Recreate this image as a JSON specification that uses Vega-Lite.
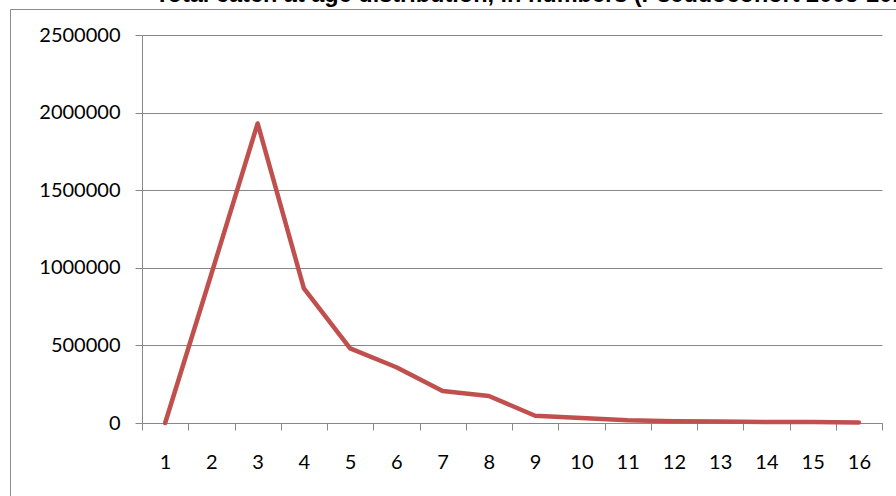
{
  "$schema": "https://vega.github.io/schema/vega-lite/v6.json",
  "width": 886,
  "height": 487,
  "autosize": {"type": "none"},
  "padding": {"left": 10, "top": 9, "right": 0, "bottom": 0},
  "background": "white",
  "config": {"view": {"stroke": null}, "font": "Lato"},
  "title": {
    "text": "Total catch at age distribution, in numbers (Pseudocohort 2005-2010)",
    "anchor": "start",
    "frame": "group",
    "font": "Liberation Sans",
    "fontSize": 23.5,
    "fontWeight": "bold",
    "color": "black",
    "baseline": "alphabetic",
    "offset": -3,
    "dx": 145,
    "dy": 13
  },
  "data": {
    "values": [
      {"age": 1, "catch": 0},
      {"age": 2, "catch": 960000},
      {"age": 3, "catch": 1930000},
      {"age": 4, "catch": 868000},
      {"age": 5, "catch": 481000},
      {"age": 6, "catch": 359000},
      {"age": 7, "catch": 206000},
      {"age": 8, "catch": 174000},
      {"age": 9, "catch": 47000},
      {"age": 10, "catch": 32000},
      {"age": 11, "catch": 18000},
      {"age": 12, "catch": 12000},
      {"age": 13, "catch": 9000},
      {"age": 14, "catch": 6000},
      {"age": 15, "catch": 6000},
      {"age": 16, "catch": 4000}
    ]
  },
  "layer": [
    {
      "mark": {"type": "line", "color": "#C0504D", "strokeWidth": 4.5, "strokeCap": "round", "strokeJoin": "round"},
      "encoding": {
        "x": {
          "field": "age",
          "type": "ordinal",
          "bandPosition": 0.5,
          "scale": {"type": "band", "range": [132, 872], "paddingInner": 0, "paddingOuter": 0},
          "axis": {
            "orient": "bottom",
            "offset": -73,
            "title": null,
            "labelAngle": 0,
            "tickBand": "extent",
            "tickSize": 7,
            "tickColor": "#878787",
            "domainColor": "#878787",
            "labelFont": "Lato",
            "labelFontSize": 20,
            "labelColor": "black",
            "labelPadding": 22,
            "grid": false
          }
        },
        "y": {
          "field": "catch",
          "type": "quantitative",
          "scale": {"domain": [0, 2500000], "range": [414, 26], "nice": false, "zero": true},
          "axis": {
            "orient": "left",
            "offset": -132,
            "title": null,
            "values": [0, 500000, 1000000, 1500000, 2000000, 2500000],
            "format": "d",
            "tickSize": 7,
            "tickColor": "#878787",
            "domainColor": "#878787",
            "grid": true,
            "gridColor": "#878787",
            "gridOpacity": 1,
            "labelFont": "Lato",
            "labelFontSize": 20,
            "labelColor": "black",
            "labelPadding": 15
          }
        }
      }
    },
    {
      "mark": {"type": "point", "opacity": 0},
      "encoding": {
        "x": {
          "field": "age",
          "type": "ordinal",
          "axis": {"orient": "top", "title": null, "labels": false, "ticks": false, "grid": false, "domainColor": "#8c8c8c"}
        },
        "y": {
          "field": "catch",
          "type": "quantitative",
          "axis": {"orient": "left", "title": null, "labels": false, "ticks": false, "grid": false, "domainColor": "#8c8c8c"}
        }
      }
    }
  ],
  "resolve": {
    "scale": {"x": "independent", "y": "independent"},
    "axis": {"x": "independent", "y": "independent"}
  }
}
